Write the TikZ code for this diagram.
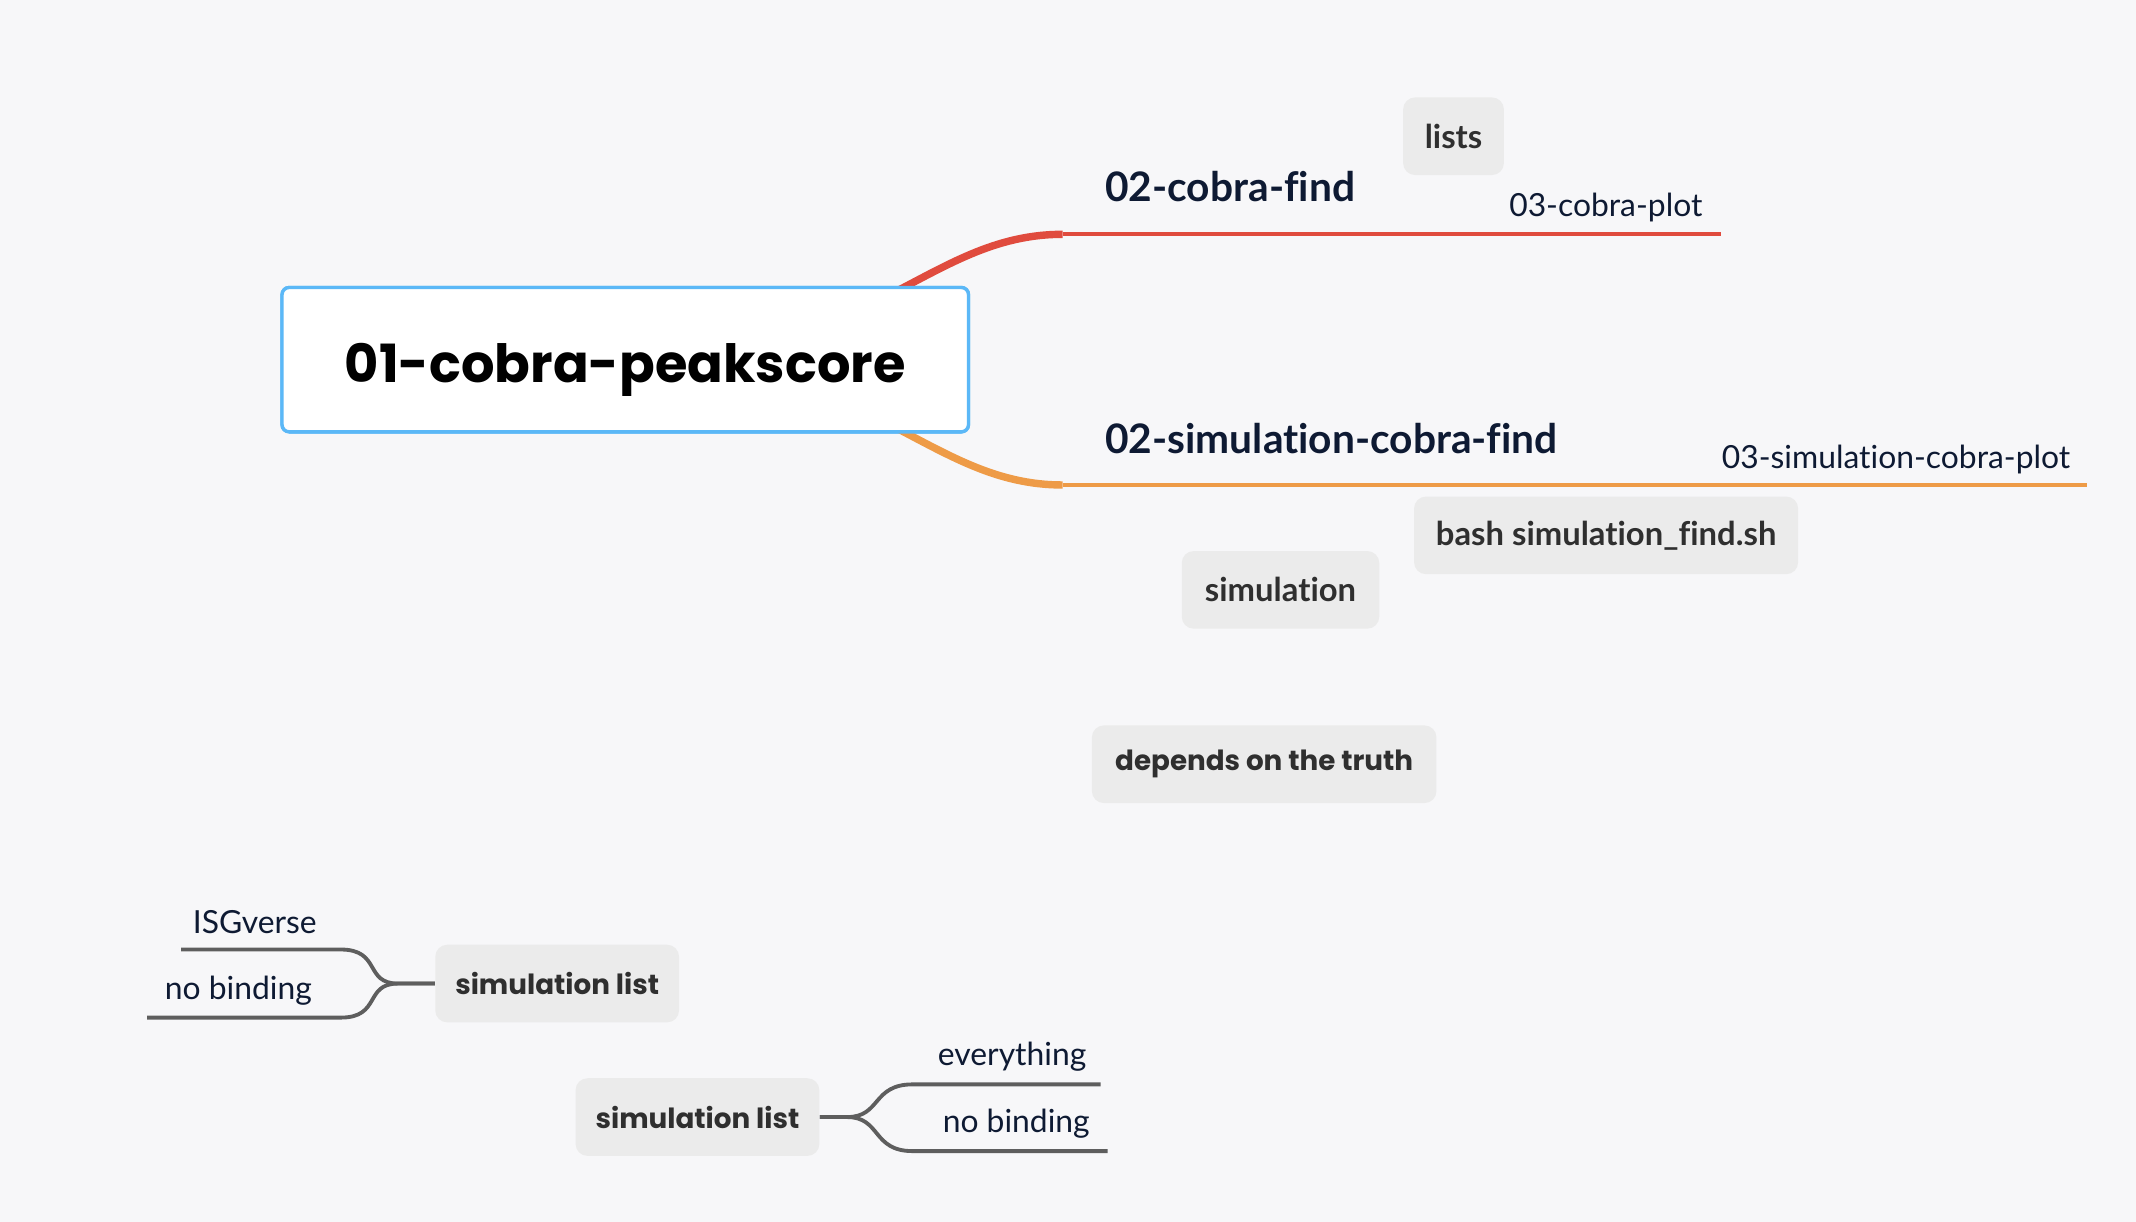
\documentclass[tikz,border=0pt]{standalone}
\usepackage{fontspec}
\setmainfont[Ligatures=NoCommon]{Lato}
\newfontfamily\popfont{Poppins}
\usetikzlibrary{positioning}
\definecolor{bgcol}{HTML}{F7F7F9}
\definecolor{rootline}{HTML}{5BB8F7}
\definecolor{redline}{HTML}{E04B3E}
\definecolor{orangeline}{HTML}{EE9B47}
\definecolor{greyline}{HTML}{5E5E5E}
\definecolor{boxfill}{HTML}{EBEBEB}
\definecolor{boxtext}{HTML}{2F2F2F}
\definecolor{navy}{HTML}{0E1A33}
\tikzstyle{rootbox}=[draw=rootline,line width=1.4pt,fill=white,rounded corners=3pt,
  minimum width=10.08cm,minimum height=2.12cm,
  font=\popfont\bfseries\fontsize{22}{26}\selectfont,text=black]
\tikzstyle{greybox}=[fill=boxfill,rounded corners=5pt,minimum height=1.14cm,
  inner xsep=0pt,text=boxtext]
\tikzstyle{wide}=[font=\popfont\bfseries\fontsize{11.6}{14}\selectfont]
\tikzstyle{narrow}=[font=\bfseries\fontsize{13.7}{16}\selectfont]
\tikzstyle{branch}=[font=\bfseries\fontsize{17}{20}\selectfont,text=navy,inner sep=0pt]
\tikzstyle{leaf}=[font=\fontsize{13.3}{16}\selectfont,text=navy,inner sep=0pt]
\tikzstyle{curvea}=[line width=3.1pt]
\tikzstyle{linea}=[line width=1.7pt]
\tikzstyle{greyconn}=[draw=greyline,line width=1.6pt]

\begin{document}
\begin{tikzpicture}[x=0.02cm,y=-0.02cm]
	\useasboundingbox[fill=bgcol] (0,0) rectangle (1568,897);
	
	% free ends of the branch lines
	\coordinate (cfA) at (780,172);
	\coordinate (cfB) at (1263,172);
	\coordinate (scfA) at (780,356);
	\coordinate (scfB) at (1532,356);
	
	\node[rootbox] (root) at (459,264) {};
	
	\draw[redline,curvea] (root.center) .. controls +(181,0) and +(-100,0) .. (cfA);
	\draw[redline,linea] (cfA) -- (cfB);
	\draw[orangeline,curvea] (root.center) .. controls +(181,0) and +(-100,0) .. (scfA);
	\draw[orangeline,linea] (scfA) -- (scfB);
	
	\node[rootbox] (rootfront) at (root.center) {\raisebox{-9.6pt}[0pt][0pt]{01-cobra-peakscore}};
	
	\node[branch,anchor=west] (cfind) at (811,137) {02-cobra-find};
	\node[leaf,anchor=east] (cplot) at (1250,152) {03-cobra-plot};
	\node[greybox,narrow,minimum width=1.48cm] (lists) at (1067,100) {lists};
	
	\node[branch,anchor=west] (scfind) at (811,322) {02-simulation-cobra-find};
	\node[leaf,anchor=east] (scplot) at (1520,337) {03-simulation-cobra-plot};
	\node[greybox,narrow,minimum width=5.64cm] (bash) at (1179,393) {bash simulation\_find.sh};
	\node[greybox,narrow,minimum width=2.9cm] (sim) at (940,433) {simulation};
	
	\node[greybox,wide,minimum width=5.06cm] (truth) at (928,561) {depends on the truth};
	
	% left list
	\node[greybox,wide,minimum width=3.58cm] (slistA) at (409,722) {simulation list};
	\coordinate (isgL) at (133,697);
	\coordinate (nbaL) at (108,747);
	\node[leaf] (isg) at (187,677) {ISGverse};
	\node[leaf] (nba) at (175,727) {no binding};
	\draw[greyconn] (slistA.west) -- ++(-27,0) .. controls +(-25,0) and +(30,0) .. (250,697) -- (isgL);
	\draw[greyconn] (slistA.west) -- ++(-27,0) .. controls +(-25,0) and +(30,0) .. (250,747) -- (nbaL);
	
	% right list
	\node[greybox,wide,minimum width=3.58cm] (slistB) at (512,820) {simulation list};
	\coordinate (evR) at (808,796);
	\coordinate (nbbR) at (813,845);
	\node[leaf] (ev) at (743,776) {everything};
	\node[leaf] (nbb) at (746,825) {no binding};
	\draw[greyconn] (slistB.east) -- ++(20,0) .. controls +(25,0) and +(-30,0) .. (670,796) -- (evR);
	\draw[greyconn] (slistB.east) -- ++(20,0) .. controls +(25,0) and +(-30,0) .. (670,845) -- (nbbR);
\end{tikzpicture}
\end{document}
